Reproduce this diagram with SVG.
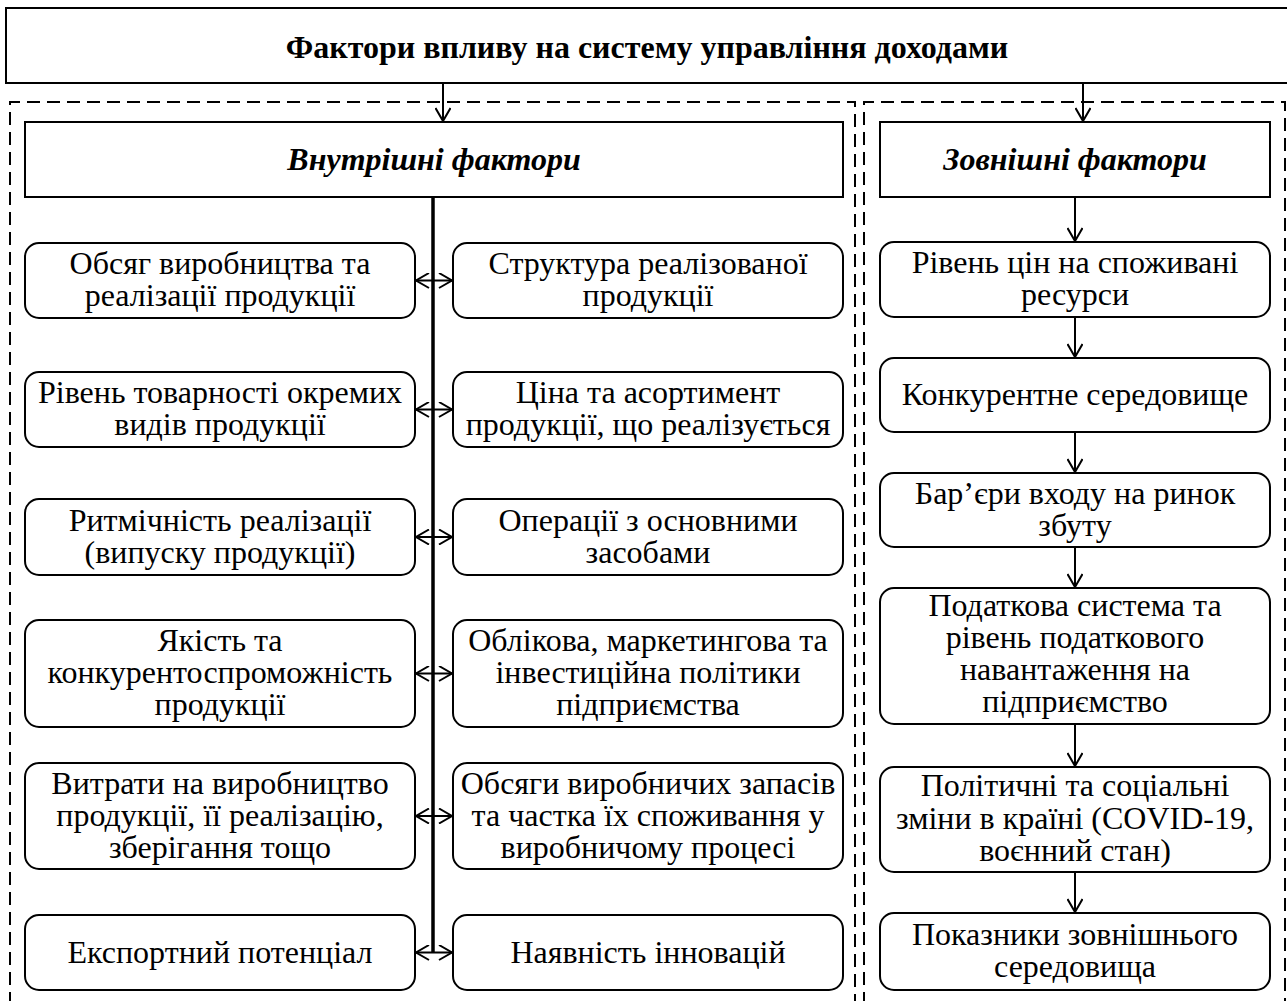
<svg xmlns="http://www.w3.org/2000/svg" width="1287" height="1001" viewBox="0 0 1287 1001">
<defs>
<style>
.bg{fill:#fff}
.box{fill:#fff;stroke:#000;stroke-width:2}
.dash{fill:none;stroke:#000;stroke-width:2;stroke-dasharray:13 7}
.ln{fill:none;stroke:#000;stroke-width:2}
.t{font-family:"Liberation Serif","Times New Roman",serif;font-size:32px;fill:#000;text-anchor:middle}
.title{font-family:"Liberation Serif","Times New Roman",serif;font-size:32px;font-weight:bold;fill:#000;text-anchor:middle}
.hdr{font-family:"Liberation Serif","Times New Roman",serif;font-size:32px;font-weight:bold;font-style:italic;fill:#000;text-anchor:middle}
</style>
<marker id="ah" viewBox="-14 -8 16 16" refX="0" refY="0" markerWidth="16" markerHeight="16" markerUnits="userSpaceOnUse" orient="auto-start-reverse">
<path d="M-13,-7.5 L0,0 L-13,7.5" fill="none" stroke="#000" stroke-width="2"/>
</marker>
</defs>
<rect class="bg" x="0" y="0" width="1287" height="1001"/>

<g id="containers">
<path class="dash" d="M10,1005 V102 H855 V1005"/>
<path class="dash" d="M864,1005 V102 H1285 V1005"/>
</g>

<g id="connectors">
<line class="ln" x1="443" y1="83" x2="443" y2="121" marker-end="url(#ah)"/>
<line class="ln" x1="1083" y1="83" x2="1083" y2="121" marker-end="url(#ah)"/>
<line x1="433" y1="197" x2="433" y2="953" stroke="#000" stroke-width="3.5"/>
<line class="ln" x1="416" y1="280.5" x2="452" y2="280.5" marker-start="url(#ah)" marker-end="url(#ah)"/>
<line class="ln" x1="416" y1="409.5" x2="452" y2="409.5" marker-start="url(#ah)" marker-end="url(#ah)"/>
<line class="ln" x1="416" y1="537" x2="452" y2="537" marker-start="url(#ah)" marker-end="url(#ah)"/>
<line class="ln" x1="416" y1="673.5" x2="452" y2="673.5" marker-start="url(#ah)" marker-end="url(#ah)"/>
<line class="ln" x1="416" y1="816" x2="452" y2="816" marker-start="url(#ah)" marker-end="url(#ah)"/>
<line class="ln" x1="416" y1="952.5" x2="452" y2="952.5" marker-start="url(#ah)" marker-end="url(#ah)"/>
<line class="ln" x1="1075" y1="197" x2="1075" y2="241" marker-end="url(#ah)"/>
<line class="ln" x1="1075" y1="317" x2="1075" y2="357" marker-end="url(#ah)"/>
<line class="ln" x1="1075" y1="432" x2="1075" y2="472" marker-end="url(#ah)"/>
<line class="ln" x1="1075" y1="547" x2="1075" y2="587" marker-end="url(#ah)"/>
<line class="ln" x1="1075" y1="724" x2="1075" y2="766" marker-end="url(#ah)"/>
<line class="ln" x1="1075" y1="872" x2="1075" y2="912" marker-end="url(#ah)"/>
</g>

<g id="title">
<rect class="box" x="6" y="8" width="1290" height="75"/>
<text class="title" x="647" y="58">Фактори впливу на систему управління доходами</text>
</g>

<g id="internal">
<rect class="box" x="25" y="122" width="818" height="75"/>
<text class="hdr" x="434" y="170">Внутрішні фактори</text>
</g>
<g id="external">
<rect class="box" x="880" y="122" width="390" height="75"/>
<text class="hdr" x="1075" y="170">Зовнішні фактори</text>
</g>

<g id="i1"><rect class="box" x="25" y="243" width="390" height="75" rx="14"/>
<text class="t" x="220" y="274">Обсяг виробництва та</text><text class="t" x="220" y="306">реалізації продукції</text></g>
<g id="i2"><rect class="box" x="25" y="372" width="390" height="75" rx="14"/>
<text class="t" x="220" y="403">Рівень товарності окремих</text><text class="t" x="220" y="435">видів продукції</text></g>
<g id="i3"><rect class="box" x="25" y="499" width="390" height="76" rx="14"/>
<text class="t" x="220" y="531">Ритмічність реалізації</text><text class="t" x="220" y="563">(випуску продукції)</text></g>
<g id="i4"><rect class="box" x="25" y="620" width="390" height="107" rx="14"/>
<text class="t" x="220" y="651">Якість та</text><text class="t" x="220" y="683">конкурентоспроможність</text><text class="t" x="220" y="715">продукції</text></g>
<g id="i5"><rect class="box" x="25" y="763" width="390" height="106" rx="14"/>
<text class="t" x="220" y="794">Витрати на виробництво</text><text class="t" x="220" y="826">продукції, її реалізацію,</text><text class="t" x="220" y="858">зберігання тощо</text></g>
<g id="i6"><rect class="box" x="25" y="915" width="390" height="75" rx="14"/>
<text class="t" x="220" y="963">Експортний потенціал</text></g>

<g id="i7"><rect class="box" x="453" y="243" width="390" height="75" rx="14"/>
<text class="t" x="648" y="274">Структура реалізованої</text><text class="t" x="648" y="306">продукції</text></g>
<g id="i8"><rect class="box" x="453" y="372" width="390" height="75" rx="14"/>
<text class="t" x="648" y="403">Ціна та асортимент</text><text class="t" x="648" y="435">продукції, що реалізується</text></g>
<g id="i9"><rect class="box" x="453" y="499" width="390" height="76" rx="14"/>
<text class="t" x="648" y="531">Операції з основними</text><text class="t" x="648" y="563">засобами</text></g>
<g id="i10"><rect class="box" x="453" y="620" width="390" height="107" rx="14"/>
<text class="t" x="648" y="651">Облікова, маркетингова та</text><text class="t" x="648" y="683">інвестиційна політики</text><text class="t" x="648" y="715">підприємства</text></g>
<g id="i11"><rect class="box" x="453" y="763" width="390" height="106" rx="14"/>
<text class="t" x="648" y="794">Обсяги виробничих запасів</text><text class="t" x="648" y="826">та частка їх споживання у</text><text class="t" x="648" y="858">виробничому процесі</text></g>
<g id="i12"><rect class="box" x="453" y="915" width="390" height="75" rx="14"/>
<text class="t" x="648" y="963">Наявність інновацій</text></g>

<g id="e1"><rect class="box" x="880" y="242" width="390" height="75" rx="14"/>
<text class="t" x="1075" y="273">Рівень цін на споживані</text><text class="t" x="1075" y="305">ресурси</text></g>
<g id="e2"><rect class="box" x="880" y="358" width="390" height="74" rx="14"/>
<text class="t" x="1075" y="405">Конкурентне середовище</text></g>
<g id="e3"><rect class="box" x="880" y="473" width="390" height="74" rx="14"/>
<text class="t" x="1075" y="504">Бар’єри входу на ринок</text><text class="t" x="1075" y="536">збуту</text></g>
<g id="e4"><rect class="box" x="880" y="588" width="390" height="136" rx="14"/>
<text class="t" x="1075" y="616">Податкова система та</text><text class="t" x="1075" y="648">рівень податкового</text><text class="t" x="1075" y="680">навантаження на</text><text class="t" x="1075" y="712">підприємство</text></g>
<g id="e5"><rect class="box" x="880" y="767" width="390" height="105" rx="14"/>
<text class="t" x="1075" y="796">Політичні та соціальні</text><text class="t" x="1075" y="829">зміни в країні (COVID-19,</text><text class="t" x="1075" y="861">воєнний стан)</text></g>
<g id="e6"><rect class="box" x="880" y="913" width="390" height="77" rx="14"/>
<text class="t" x="1075" y="945">Показники зовнішнього</text><text class="t" x="1075" y="977">середовища</text></g>
</svg>
